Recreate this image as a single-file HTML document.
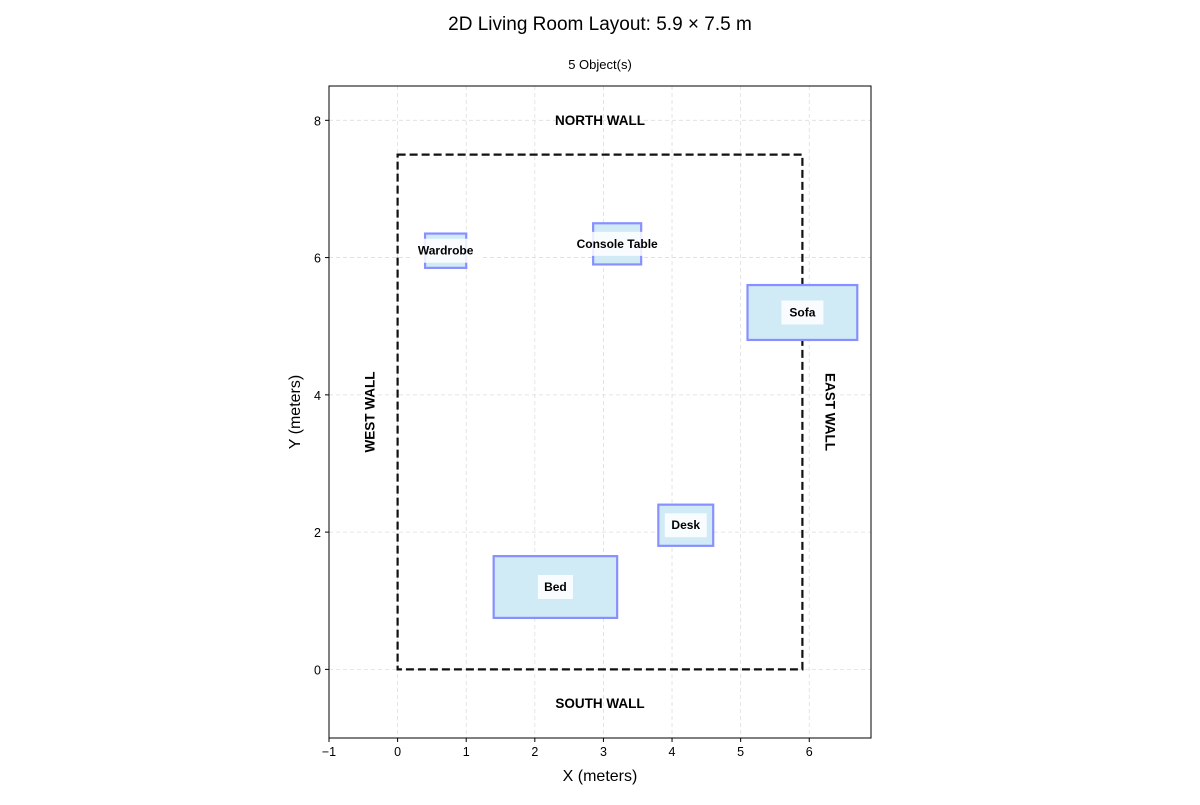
<!DOCTYPE html>
<html><head><meta charset="utf-8">
<style>
body{margin:0;background:#fff;font-family:"Liberation Sans",sans-serif;}
svg text{font-family:"Liberation Sans",sans-serif;}
</style></head>
<body>
<svg id="chart" width="1200" height="800" xmlns="http://www.w3.org/2000/svg">
<text x="600" y="30" text-anchor="middle" font-size="19">2D Living Room Layout: 5.9 × 7.5 m</text>
<text x="600" y="69" text-anchor="middle" font-size="13">5 Object(s)</text>
<g id="grid"></g>
<g id="plot"></g>
<rect x="329" y="86" width="542" height="652" fill="none" stroke="#000" stroke-width="1"/>
<g id="ticks"></g>
<text x="600" y="781" text-anchor="middle" font-size="16">X (meters)</text>
<text transform="translate(300,412) rotate(-90)" text-anchor="middle" font-size="16">Y (meters)</text>
</svg>
<script>
const roomW = 5.9, roomH = 7.5;
const objNames = ["Wardrobe","Console Table","Sofa","Desk","Bed"];
const objX = [0.4, 2.85, 5.1, 3.8, 1.4];
const objY = [5.85, 5.9, 4.8, 1.8, 0.75];
const objW = [0.6, 0.7, 1.6, 0.8, 1.8];
const objH = [0.5, 0.6, 0.8, 0.6, 0.9];
const xTicks = [-1,0,1,2,3,4,5,6];
const yTicks = [0,2,4,6,8];
const xTickLabels = ["\u22121","0","1","2","3","4","5","6"];
const yTickLabels = ["0","2","4","6","8"];

const L=329,R=871,T=86,B=738,xmin=-1,xmax=6.9,ymin=-1,ymax=8.5;
const sx=v=>L+(v-xmin)/(xmax-xmin)*(R-L);
const sy=v=>B-(v-ymin)/(ymax-ymin)*(B-T);
const NS="http://www.w3.org/2000/svg";
function mk(tag,attrs,parent,txt){const e=document.createElementNS(NS,tag);for(const k in attrs)e.setAttribute(k,attrs[k]);if(txt!==undefined)e.textContent=txt;parent.appendChild(e);return e;}
const grid=document.getElementById('grid'),plot=document.getElementById('plot'),ticks=document.getElementById('ticks');
xTicks.forEach((t,i)=>{
  const g=mk('line',{x1:sx(t),x2:sx(t),y1:T,y2:B,stroke:'#ddd','stroke-dasharray':'4,3','stroke-width':0.8},grid);
  
  
  const tk=mk('line',{x1:sx(t),x2:sx(t),y1:B,y2:B+4,stroke:'#000'},ticks);
  
  
  const lb=mk('text',{x:sx(t),y:B+18,'text-anchor':'middle','font-size':12.5},ticks,xTickLabels[i]);
  
  
});
yTicks.forEach((t,i)=>{
  const g=mk('line',{x1:L,x2:R,y1:sy(t),y2:sy(t),stroke:'#ddd','stroke-dasharray':'4,3','stroke-width':0.8},grid);
  
  
  const tk=mk('line',{x1:L-4,x2:L,y1:sy(t),y2:sy(t),stroke:'#000'},ticks);
  
  
  const lb=mk('text',{x:L-8,y:sy(t)+5,'text-anchor':'end','font-size':12.5},ticks,yTickLabels[i]);
  
  
});
const room=mk('rect',{x:sx(0),y:sy(roomH),width:sx(roomW)-sx(0),height:sy(0)-sy(roomH),fill:'none',stroke:'#111','stroke-width':2.2,'stroke-dasharray':'8,4'},plot);


const walls=[["NORTH WALL",roomW/2,roomH+0.5,0,"north-wall-label"],["SOUTH WALL",roomW/2,-0.5,0,"south-wall-label"],["WEST WALL",-0.4,roomH/2,-90,"west-wall-label"],["EAST WALL",roomW+0.4,roomH/2,90,"east-wall-label"]];
walls.forEach(w=>{
  const t=mk('text',{transform:`translate(${sx(w[1])},${sy(w[2])}) rotate(${w[3]})`,'text-anchor':'middle','dominant-baseline':'central','font-size':13.5,'font-weight':'bold'},plot,w[0]);
  
  
});
objNames.forEach((n,i)=>{
  const x0=sx(objX[i]),x1=sx(objX[i]+objW[i]),y0=sy(objY[i]+objH[i]),y1=sy(objY[i]);
  const r=mk('rect',{x:x0,y:y0,width:x1-x0,height:y1-y0,fill:'#d0eaf6',stroke:'#8890ff','stroke-width':2.2},plot);
  
  
  const cx=(x0+x1)/2,cy=(y0+y1)/2;
  const tw=n.length*7+14;
  const bg=mk('rect',{x:cx-tw/2,y:cy-12,width:tw,height:24,fill:'#fff',opacity:0.85},plot);
  
  
  const t=mk('text',{x:cx,y:cy+4,'text-anchor':'middle','font-size':12,'font-weight':'bold'},plot,n);
  
  
});
</script>
</body></html>
